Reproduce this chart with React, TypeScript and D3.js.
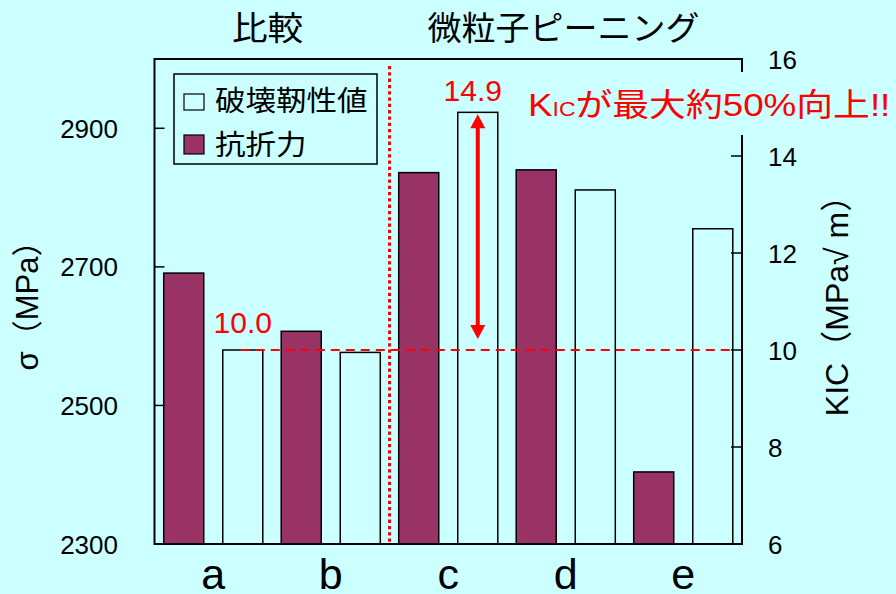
import React from 'react';
import * as d3 from 'd3';

// Sample groups
const categories = ['a', 'b', 'c', 'd', 'e'];
// 抗折力 σ (MPa), left axis
const strength = [2691, 2607, 2836, 2840, 2404];
// 破壊靭性値 KIC (MPa√m), right axis
const toughness = [10.0, 9.95, 14.9, 13.3, 12.5];
const leftTicks = [2300, 2500, 2700, 2900];
const rightTicks = [6, 8, 10, 12, 14, 16];
const seriesKeys = ['strength', 'toughness'];
const legendLabels = ['破壊靭性値', '抗折力'];
const groupTitles = ['比較', '微粒子ピーニング'];

const W = 896;
const H = 594;
const M = { left: 154.5, right: 742, top: 59, bottom: 544 };

const BG = '#CCFFFF';
const MAROON = '#993366';
const RED = '#FF0000';
const LATIN = "'Liberation Sans', Arial, 'Noto Sans CJK JP', sans-serif";

function Stretch(props: {
  x: number; y: number; sx: number; size: number; anchor?: string; fill?: string; children: React.ReactNode;
}) {
  const { x, y, sx, size, anchor = 'start', fill = '#000', children } = props;
  return (
    <text
      transform={`translate(${x},${y}) scale(${sx},1)`}
      textAnchor={anchor}
      fontSize={size}
      fill={fill}
      fontFamily={LATIN}
    >
      {children}
    </text>
  );
}

export default function App() {
  const x = d3.scaleBand<string>().domain(categories).range([M.left, M.right]).padding(0);
  const sub = d3
    .scaleBand<string>()
    .domain(seriesKeys)
    .range([0, x.bandwidth()])
    .paddingInner(0.322)
    .paddingOuter(0.156);
  const bw = sub.bandwidth();
  const yL = d3.scaleLinear().domain([2300, 3000]).range([M.bottom, M.top]);
  const yR = d3.scaleLinear().domain([6, 16]).range([M.bottom, M.top]);

  const xs = (c: string) => (x(c) as number) + (sub('strength') as number);
  const xt = (c: string) => (x(c) as number) + (sub('toughness') as number);

  const splitX = x('c') as number;
  const baseVal = toughness[0];
  const peakVal = toughness[2];
  const arrowX = xt('c') + bw / 2;
  const arrowTop = yR(peakVal) + 2;
  const arrowBot = yR(baseVal) - 11;
  const head = 14;
  const hw = 7.5;

  return (
    <svg
      width={W}
      height={H}
      style={{ position: 'absolute', left: 0, top: 0, display: 'block' }}
      fontFamily={LATIN}
    >
      <rect x={0} y={0} width={W} height={H} fill={BG} />

      {/* bars */}
      {categories.map((c, i) => (
        <g key={c}>
          <rect
            x={xs(c)}
            y={yL(strength[i])}
            width={bw}
            height={yL(2300) - yL(strength[i])}
            fill={MAROON}
            stroke="#000"
            strokeWidth={1.5}
          />
          <rect
            x={xt(c)}
            y={yR(toughness[i])}
            width={bw}
            height={yR(6) - yR(toughness[i])}
            fill="none"
            stroke="#000"
            strokeWidth={1.5}
          />
        </g>
      ))}

      {/* divider between reference and peened samples */}
      <line
        x1={splitX}
        x2={splitX}
        y1={66}
        y2={M.bottom}
        stroke={RED}
        strokeWidth={3}
        strokeDasharray="3.3,3"
      />

      {/* baseline KIC reference */}
      <line
        x1={xt('a') + bw / 2 - 2}
        x2={xt('e') + bw}
        y1={yR(baseVal)}
        y2={yR(baseVal)}
        stroke={RED}
        strokeWidth={2}
        strokeDasharray="9,6"
      />
      <text
        x={xt('a') + bw / 2}
        y={yR(baseVal) - 17}
        textAnchor="middle"
        fontSize={30}
        fill={RED}
      >
        {baseVal.toFixed(1)}
      </text>
      <text
        x={arrowX - 5}
        y={yR(peakVal) - 11}
        textAnchor="middle"
        fontSize={30}
        fill={RED}
      >
        {peakVal.toFixed(1)}
      </text>

      {/* double-headed arrow */}
      <line x1={arrowX} x2={arrowX} y1={arrowTop + head - 1} y2={arrowBot - head + 1} stroke={RED} strokeWidth={4} />
      <path
        d={`M${arrowX},${arrowTop} L${arrowX - hw},${arrowTop + head} L${arrowX + hw},${arrowTop + head} Z`}
        fill={RED}
      />
      <path
        d={`M${arrowX},${arrowBot} L${arrowX - hw},${arrowBot - head} L${arrowX + hw},${arrowBot - head} Z`}
        fill={RED}
      />

      {/* frame */}
      <rect
        x={M.left}
        y={M.top}
        width={M.right - M.left}
        height={M.bottom - M.top}
        fill="none"
        stroke="#000"
        strokeWidth={2}
      />

      {/* left ticks */}
      {leftTicks.map((t) => (
        <g key={`l${t}`}>
          <line x1={M.left} x2={M.left + 10} y1={yL(t)} y2={yL(t)} stroke="#000" strokeWidth={1.5} />
          <text x={118} y={yL(t) + 9.5} textAnchor="end" fontSize={26} fill="#000">
            {t}
          </text>
        </g>
      ))}

      {/* annotation backdrop over the right axis */}
      <rect x={520} y={72} width={W - 520} height={63} fill={BG} />

      {/* right ticks */}
      {rightTicks.map((t) => (
        <g key={`r${t}`}>
          <line x1={M.right - 11} x2={M.right} y1={yR(t)} y2={yR(t)} stroke="#000" strokeWidth={1.5} />
          <text x={768} y={yR(t) + 9.5} textAnchor="start" fontSize={26} fill="#000">
            {t}
          </text>
        </g>
      ))}

      {/* category labels */}
      {categories.map((c) => (
        <text
          key={`c${c}`}
          x={(x(c) as number) + x.bandwidth() / 2}
          y={589}
          textAnchor="middle"
          fontSize={43}
          fill="#000"
        >
          {c}
        </text>
      ))}

      {/* group titles */}
      <Stretch x={267.5} y={40} sx={1.08} size={33} anchor="middle">
        {groupTitles[0]}
      </Stretch>
      <Stretch x={563.5} y={40} sx={1.03} size={33} anchor="middle">
        {groupTitles[1]}
      </Stretch>

      {/* legend */}
      <rect x={174} y={74} width={203} height={90} fill="none" stroke="#000" strokeWidth={1.5} />
      <rect x={184} y={94} width={20} height={16} fill="none" stroke="#000" strokeWidth={1.2} />
      <rect x={184} y={135} width={20} height={19} fill={MAROON} stroke="#000" strokeWidth={1.2} />
      <Stretch x={215} y={111} sx={1.09} size={28}>
        {legendLabels[0]}
      </Stretch>
      <Stretch x={215} y={155} sx={1.09} size={28}>
        {legendLabels[1]}
      </Stretch>

      {/* headline */}
      <Stretch x={528} y={116} sx={1.15} size={32} fill={RED}>
        <tspan>K</tspan>
        <tspan fontSize={20}>IC</tspan>
        <tspan>が最大約50%向上!!</tspan>
      </Stretch>

      {/* axis titles */}
      <text transform={`translate(38,298) rotate(-90)`} textAnchor="middle" fontSize={31} fill="#000">
        σ（MPa）
      </text>
      <text transform={`translate(848,298) rotate(-90)`} textAnchor="middle" fontSize={32} fill="#000">
        KIC（MPa√ m）
      </text>
    </svg>
  );
}
